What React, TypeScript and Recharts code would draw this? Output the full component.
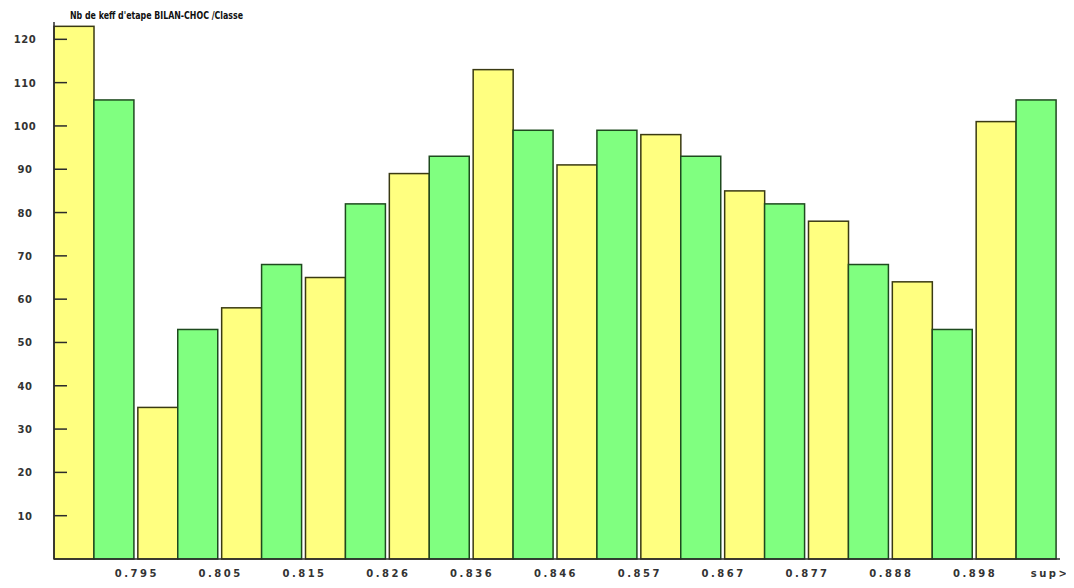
import { BarChart, Bar, XAxis, YAxis } from 'recharts';

// one count per class, read left to right
const counts = [
  123, 106, 35, 53, 58, 68, 65, 82, 89, 93, 113, 99,
  91, 99, 98, 93, 85, 82, 78, 68, 64, 53, 101, 106,
];
const boundaryLabels = [
  '0.795', '0.805', '0.815', '0.826', '0.836', '0.846',
  '0.857', '0.867', '0.877', '0.888', '0.898',
];
const lastLabel = 'sup>';
const yTicks = [10, 20, 30, 40, 50, 60, 70, 80, 90, 100, 110, 120];
const title = "Nb de keff d'etape BILAN-CHOC /Classe";

const data = counts.map((count, i) => ({ cls: i, count }));

const W = 1066;
const H = 580;
const BW = 1006 / 24;
const INK = '#2b2b2b';

const BarShape = (props: any) => {
  const { x, y, width, height, index } = props;
  const yellow = index % 2 === 0;
  const bx = yellow ? x : x - 2;
  const bw = width - 2;
  return (
    <rect
      x={bx}
      y={y}
      width={bw}
      height={height}
      fill={yellow ? '#ffff80' : '#80ff80'}
      stroke={yellow ? '#3a3a12' : '#1e4a1e'}
      strokeWidth={1.5}
    />
  );
};

const XTick = (props: any) => {
  const { x, y, payload } = props;
  const i = payload.value as number;
  let label = '';
  let tx = x;
  if (i === 23) {
    label = lastLabel;
    tx = x + 11;
  } else if (i >= 2 && i % 2 === 0) {
    label = boundaryLabels[i / 2 - 1];
    tx = x - BW / 2 - 1;
  }
  if (!label) return null;
  return (
    <text
      x={tx}
      y={y + 18}
      textAnchor="middle"
      fontFamily="DejaVu Sans"
      fontWeight="bold"
      fontSize={10}
      letterSpacing={2.5}
      fill="#333"
    >
      {label}
    </text>
  );
};

const YTick = (props: any) => {
  const { x, y, payload } = props;
  return (
    <g>
      <line x1={x} y1={y} x2={x + 13} y2={y} stroke={INK} strokeWidth={1.5} />
      <text
        x={x - 29}
        y={y + 4}
        textAnchor="middle"
        fontFamily="DejaVu Sans"
        fontWeight="bold"
        fontSize={10}
        letterSpacing={0.5}
        fill="#333"
      >
        {payload.value}
      </text>
    </g>
  );
};

export default function App() {
  return (
    <div style={{ position: 'relative', width: W, height: H, background: '#fff' }}>
      <BarChart
        width={W}
        height={H}
        data={data}
        margin={{ top: 14, right: 14, bottom: 0, left: 0 }}
        barCategoryGap={0}
      >
        <XAxis
          dataKey="cls"
          interval={0}
          height={29}
          tickLine={false}
          tickSize={0}
          tickMargin={0}
          axisLine={{ stroke: INK, strokeWidth: 1.5 }}
          tick={<XTick />}
        />
        <YAxis
          width={46}
          domain={[0, 124]}
          ticks={yTicks}
          tickLine={false}
          tickSize={0}
          tickMargin={0}
          axisLine={{ stroke: INK, strokeWidth: 1.5 }}
          tick={<YTick />}
        />
        <Bar dataKey="count" isAnimationActive={false} shape={<BarShape />} />
      </BarChart>
      <svg
        width={300}
        height={20}
        style={{ position: 'absolute', left: 0, top: 0, pointerEvents: 'none' }}
      >
        <text
          x={62}
          y={11}
          fontFamily="DejaVu Sans"
          fontWeight="bold"
          fontSize={10}
          textLength={173}
          lengthAdjust="spacingAndGlyphs"
          fill="#111"
        >
          {title}
        </text>
      </svg>
    </div>
  );
}
